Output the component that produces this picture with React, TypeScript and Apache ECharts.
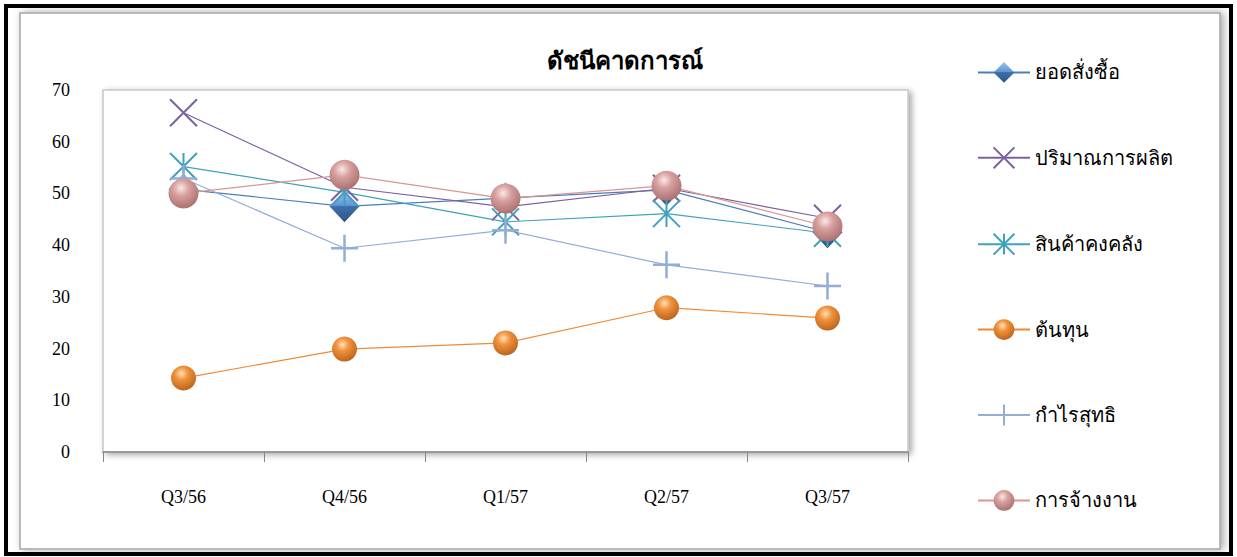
import React, { useEffect, useRef } from "react";
import * as echarts from "echarts";

const categories = ["Q3/56", "Q4/56", "Q1/57", "Q2/57", "Q3/57"];
const seriesNames = ["ยอดสั่งซื้อ", "ปริมาณการผลิต", "สินค้าคงคลัง", "ต้นทุน", "กำไรสุทธิ", "การจ้างงาน"];
const orders = [50.8, 47.5, 49.1, 50.7, 42.5];
const production = [65.6, 51.2, 47.4, 51.0, 45.2];
const inventory = [55.2, 50.2, 44.5, 46.1, 42.3];
const cost = [14.3, 19.9, 21.1, 27.9, 25.9];
const profit = [52.9, 39.4, 42.9, 36.2, 32.1];
const employment = [50.0, 53.6, 49.0, 51.5, 43.6];
const yTicks = { min: 0, max: 70, interval: 10 };

const FONT = "'Liberation Serif', 'DejaVu Serif', serif";

const sphere = (light: string, mid: string, dark: string) => ({
  type: "radial",
  x: 0.42,
  y: 0.32,
  r: 0.75,
  colorStops: [
    { offset: 0, color: light },
    { offset: 0.35, color: mid },
    { offset: 1, color: dark },
  ],
});

export default function App() {
  const ref = useRef<HTMLDivElement>(null);
  useEffect(() => {
    if (!ref.current) return;
    const chart = echarts.init(ref.current, undefined, { renderer: "svg" });
    const lineSeries = (name: string, data: number[], color: string, extra: any) => ({
      name,
      type: "line",
      data,
      lineStyle: { color, width: 1.2 },
      emphasis: { disabled: true },
      ...extra,
    });
    chart.setOption({
      animation: false,
      backgroundColor: "#fff",
      textStyle: { fontFamily: FONT },
      graphic: [
        {
          type: "rect",
          shape: { x: 20, y: 13, width: 1200, height: 536 },
          style: {
            fill: "#fff",
            stroke: "#a6a6a6",
            lineWidth: 1.5,
            shadowBlur: 8,
            shadowOffsetX: 3,
            shadowOffsetY: 0,
            shadowColor: "rgba(0,0,0,0.35)",
          },
          z: -10,
          silent: true,
        },
        {
          type: "rect",
          shape: { x: 6, y: 6, width: 1225, height: 548 },
          style: { fill: "none", stroke: "#000", lineWidth: 4 },
          z: 100,
          silent: true,
        },
      ],
      title: {
        text: "ดัชนีคาดการณ์",
        left: 620,
        top: 44,
        textAlign: "center",
        textStyle: { fontFamily: FONT, fontSize: 24, fontWeight: "bold", color: "#000" },
      },
      legend: {
        orient: "vertical",
        left: 972,
        top: 57,
        itemWidth: 52,
        itemHeight: 26,
        itemGap: 63.6,
        data: seriesNames,
        textStyle: { fontFamily: FONT, fontSize: 20, color: "#000" },
      },
      grid: {
        left: 103,
        right: 329,
        top: 90,
        bottom: 105,
        show: true,
        backgroundColor: "#fff",
        borderColor: "#c8c8c8",
        borderWidth: 1.5,
        shadowBlur: 6,
        shadowOffsetX: 3,
        shadowOffsetY: 2,
        shadowColor: "rgba(0,0,0,0.35)",
      },
      xAxis: {
        type: "category",
        data: categories,
        boundaryGap: true,
        axisLine: { lineStyle: { color: "#868686", width: 1.5 } },
        axisTick: { show: true, length: 10, lineStyle: { color: "#868686" } },
        axisLabel: { color: "#000", fontSize: 18, fontFamily: FONT, margin: 36 },
      },
      yAxis: {
        type: "value",
        min: yTicks.min,
        max: yTicks.max,
        interval: yTicks.interval,
        axisLine: { show: false },
        axisTick: { show: false },
        splitLine: { show: false },
        axisLabel: { color: "#000", fontSize: 18, fontFamily: FONT, margin: 33 },
      },
      series: [
        lineSeries(seriesNames[0], orders, "#4A7EBB", {
          symbol: "diamond",
          symbolSize: [30, 32],
          itemStyle: {
            color: {
              type: "linear",
              x: 0,
              y: 0,
              x2: 0,
              y2: 1,
              colorStops: [
                { offset: 0, color: "#9cc4f0" },
                { offset: 0.5, color: "#5d92d4" },
                { offset: 0.5, color: "#3f70aa" },
                { offset: 1, color: "#2b5585" },
              ],
            },
          },
        }),
        lineSeries(seriesNames[1], production, "#7D60A0", {
          symbol: "path://M0,0L20,20M20,0L0,20",
          symbolSize: 27,
          itemStyle: { color: "rgba(0,0,0,0)", borderColor: "#7D60A0", borderWidth: 2 },
        }),
        lineSeries(seriesNames[2], inventory, "#3FA1BB", {
          symbol: "path://M10,0L10,20M0,0L20,20M20,0L0,20",
          symbolSize: 27,
          itemStyle: { color: "rgba(0,0,0,0)", borderColor: "#3FA1BB", borderWidth: 2 },
        }),
        lineSeries(seriesNames[3], cost, "#F08A32", {
          symbol: "circle",
          symbolSize: 25,
          itemStyle: { color: sphere("#ffe0b8", "#f0923c", "#b45e18") },
        }),
        lineSeries(seriesNames[4], profit, "#93ADD6", {
          symbol: "path://M10,0L10,20M0,10L20,10",
          symbolSize: 27,
          itemStyle: { color: "rgba(0,0,0,0)", borderColor: "#93ADD6", borderWidth: 2.5 },
        }),
        lineSeries(seriesNames[5], employment, "#D99694", {
          symbol: "circle",
          symbolSize: 30,
          itemStyle: { color: sphere("#fbe8e8", "#d9a0a0", "#a46868") },
        }),
      ],
    });
    return () => chart.dispose();
  }, []);
  return (
    <div
      ref={ref}
      style={{ position: "fixed", left: 0, top: 0, width: 1237, height: 557 }}
    />
  );
}
